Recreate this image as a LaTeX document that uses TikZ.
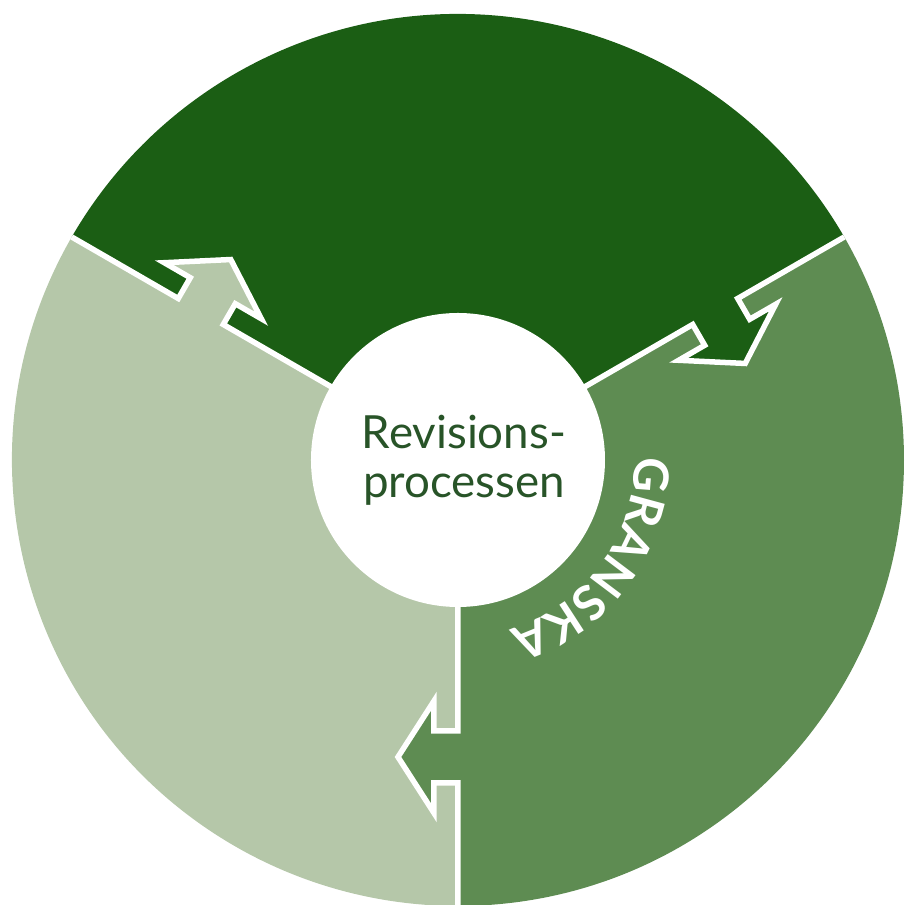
\documentclass[tikz,border=0pt]{standalone}
\usepackage{fontspec}
\setmainfont{Lato}
\usepackage{tikz}
\usetikzlibrary{decorations.text}
\definecolor{darkgreen}{RGB}{27,94,20}
\definecolor{midgreen}{RGB}{94,140,82}
\definecolor{lightgreen}{RGB}{181,199,169}
\definecolor{textgreen}{RGB}{40,84,40}

\begin{document}
\begin{tikzpicture}[x=0.2mm, y=0.2mm, border/.style={draw=white, line width=1.1mm, line join=miter}]
\useasboundingbox (-458,-445) rectangle (452,460);
\fill[darkgreen] (0,0) -- (30:446) arc[start angle=30, end angle=150, radius=446] -- cycle;
\fill[lightgreen] (0,0) -- (150:446) arc[start angle=150, end angle=270, radius=446] -- cycle;
\fill[midgreen] (0,0) -- (270:446) arc[start angle=270, end angle=390, radius=446] -- cycle;
\foreach \ang/\src in {150/lightgreen, 30/darkgreen, 270/midgreen}{
  \begin{scope}[rotate=\ang]
  \fill[\src] (271,4) -- (271,-24) -- (241,-24) -- (297,-60) -- (353,-24) -- (323,-24) -- (323,4) -- cycle;
  \draw[border] (0,0) -- (271,0) -- (271,-24) -- (241,-24) -- (297,-60) -- (353,-24) -- (323,-24) -- (323,0) -- (446,0);
  \end{scope}
}
\node (core) [circle, fill=white, inner sep=0pt, minimum size=58.8mm] at (0,0) {};
\node (title) [text=textgreen, align=center, font=\fontsize{26}{28}\selectfont] at (6,0) {Revisions-\\processen};
\path[decorate, decoration={text along path, text align=center, text color=white, text={|\fontsize{27.5}{30}\selectfont\bfseries|GRANSKA}}] (8:177) arc[start angle=8, end angle=-80, radius=177];
\end{tikzpicture}
\end{document}
